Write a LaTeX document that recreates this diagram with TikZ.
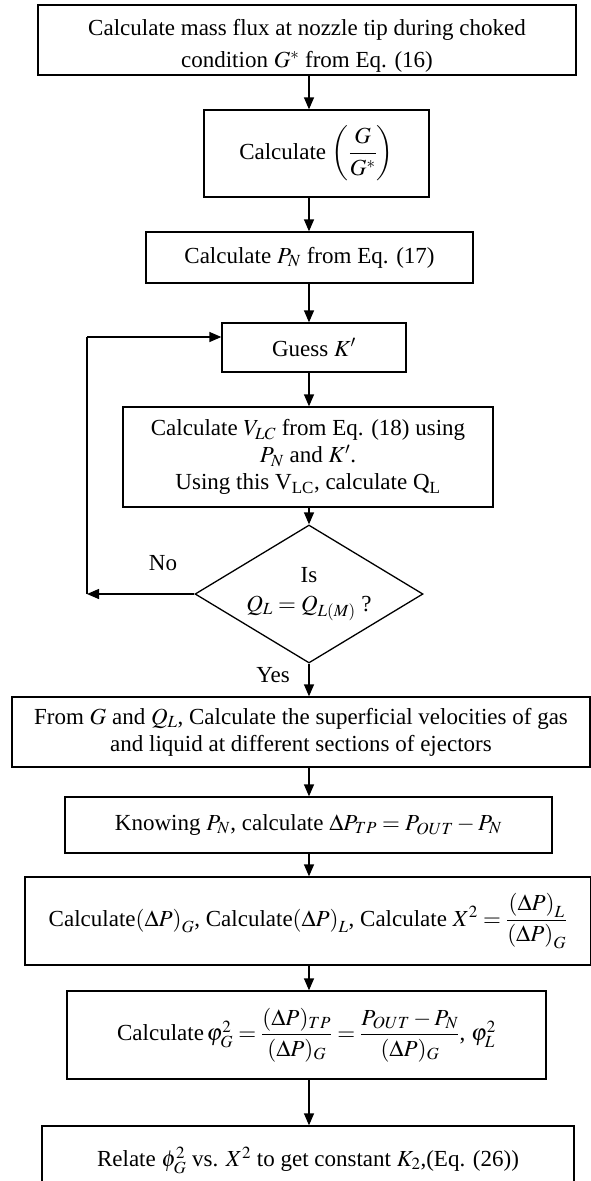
\documentclass[tikz,border=0pt]{standalone}
\usepackage{amsmath}
\usepackage{mathptmx}
\usepackage{fontspec}
\setmainfont{Liberation Serif}
\usetikzlibrary{shapes.geometric,arrows.meta}
\pgfdeclarelayer{edgelayer}
\pgfdeclarelayer{nodelayer}
\pgfsetlayers{edgelayer,nodelayer,main}
\tikzstyle{procbox}=[rectangle, draw=black, fill=white, line width=1.3pt, inner sep=0pt, align=center, font=\fontsize{23}{27}\selectfont]
\tikzstyle{decision}=[diamond, aspect=1.65, draw=black, fill=white, line width=1.3pt, inner sep=0pt, align=center, font=\fontsize{23}{29}\selectfont]
\tikzstyle{flow}=[draw=black, line width=1.3pt, -{Triangle[length=12pt,width=10pt]}]
\tikzstyle{plain}=[draw=black, line width=1.3pt]
\tikzstyle{tag}=[inner sep=0pt, font=\fontsize{23}{27}\selectfont]

\begin{document}
\begin{tikzpicture}[x=1pt,y=-1pt]
						\useasboundingbox (0,0) rectangle (591,1181);
						\begin{pgfonlayer}{nodelayer}
							\node [style=procbox, minimum width=538pt, minimum height=70pt] (1) at (307,40) {\rule{0pt}{28pt}Calculate mass flux at nozzle tip during choked\\[5pt] condition $G^{*}$ from Eq. (16)};
							\node [style=procbox, minimum width=225pt, minimum height=87pt] (2) at (316.5,153.5) {Calculate $\left(\dfrac{G}{G^{*}}\right)$};
							\node [style=procbox, minimum width=327pt, minimum height=51pt] (3) at (309.5,257.5) {Calculate $P_N$ from Eq. (17)};
							\node [style=procbox, minimum width=184pt, minimum height=49pt] (4) at (314,347.5) {Guess $K'$};
							\node [style=procbox, minimum width=370pt, minimum height=100pt] (5) at (308,457) {Calculate $V_{LC}$ from Eq. (18) using\\ $P_N$ and $K'$.\\ Using this V\textsubscript{LC}, calculate Q\textsubscript{L}};
							\node [style=decision, minimum width=228pt, minimum height=138pt] (6) at (309,594) {Is\\ $Q_L = Q_{L(M)}$ ?};
							\node [style=procbox, minimum width=578pt, minimum height=70pt] (7) at (301,732) {From $G$ and $Q_L$, Calculate the superficial velocities of gas\\ and liquid at different sections of ejectors};
							\node [style=procbox, minimum width=487pt, minimum height=56pt] (8) at (308.5,825) {Knowing $P_N$, calculate $\Delta P_{TP} = P_{OUT} - P_N$};
							\node [style=procbox, minimum width=566pt, minimum height=88pt] (9) at (308,921) {Calculate$\left(\Delta P\right)_G$, Calculate$\left(\Delta P\right)_L$, Calculate $X^2 = \dfrac{\left(\Delta P\right)_L}{\left(\Delta P\right)_G}$};
							\node [style=procbox, minimum width=479pt, minimum height=88pt] (10) at (306.5,1035) {Calculate$\,\varphi_G^2 = \dfrac{(\Delta P)_{TP}}{(\Delta P)_G} = \dfrac{P_{OUT} - P_N}{(\Delta P)_G}$, $\varphi_L^2$};
							\node [style=procbox, minimum width=532pt, minimum height=68pt] (11) at (308,1160) {Relate $\phi_G^2$ vs. $X^2$ to get constant $K_2$,(Eq. (26))};
							\node [style=tag] (12) at (163,563) {No};
							\node [style=tag] (13) at (273,675) {Yes};
						\end{pgfonlayer}
						\coordinate (axis) at (309,0);
						\coordinate (14) at (87,594);
						\coordinate (15) at (87,337);
						\begin{pgfonlayer}{edgelayer}
							\draw [style=flow] (1.south -| axis) to (2.north -| axis);
							\draw [style=flow] (2.south -| axis) to (3.north -| axis);
							\draw [style=flow] (3.south -| axis) to (4.north -| axis);
							\draw [style=flow] (4.south -| axis) to (5.north -| axis);
							\draw [style=flow] (5.south -| axis) to (6.north);
							\draw [style=flow] (6.south) to (7.north -| axis);
							\draw [style=flow] (7.south -| axis) to (8.north -| axis);
							\draw [style=flow] (8.south -| axis) to (9.north -| axis);
							\draw [style=flow] (9.south -| axis) to (10.north -| axis);
							\draw [style=flow] (10.south -| axis) to (11.north -| axis);
							\draw [style=flow] (6.west) to (14);
							\draw [style=plain] (14) to (15);
							\draw [style=flow] (15) to (15 -| 4.west);
						\end{pgfonlayer}
					\end{tikzpicture}
\end{document}
